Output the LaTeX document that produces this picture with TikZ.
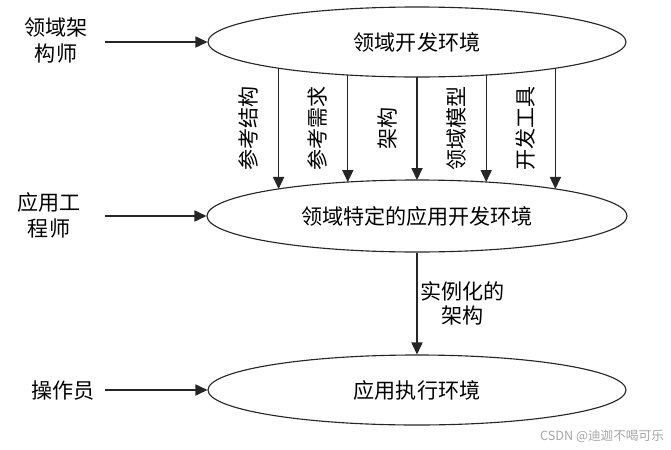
\documentclass[tikz,border=0pt]{standalone}
\usepackage{fontspec}
\setmainfont{Noto Sans CJK SC}
\usepackage{tikz}
\usetikzlibrary{shapes, arrows.meta, positioning, calc}

\begin{document}
\begin{tikzpicture}[
  envnode/.style={draw=black!85, ellipse, line width=0.8pt, minimum width=10.45cm, minimum height=1.75cm, inner sep=0pt, font=\fontsize{15}{18}\selectfont},
  rolenode/.style={align=center, inner sep=0pt, font=\fontsize{15}{18.5}\selectfont},
  flow/.style={draw=black!85, line width=0.8pt, -{Triangle[length=0.3cm, width=0.28cm]}},
  vlabel/.style={rotate=90, inner sep=0pt, font=\fontsize{15}{18}\selectfont}
]
  \useasboundingbox (0,0) rectangle (16.775,-11.225);

  \node[envnode] (devenv) at (10.425, -1.05) {领域开发环境};
  \node[envnode, minimum width=10.5cm, minimum height=1.8cm] (appdev) at (10.425, -5.4) {领域特定的应用开发环境};
  \node[envnode] (runenv) at (10.425, -9.75) {应用执行环境};

  \node[rolenode] (architect) at (1.4, -1.0) {领域架\\构师};
  \node[rolenode] (engineer) at (1.225, -5.39) {应用工\\程师};
  \node[rolenode] (operator) at (1.575, -9.775) {操作员};

  \coordinate (architectin) at (2.625, -1.05);
  \coordinate (engineerin) at (2.625, -5.4);
  \coordinate (operatorin) at (2.625, -9.75);
  \draw[flow] (architectin) -- (devenv.west);
  \draw[flow] (engineerin) -- (appdev.west);
  \draw[flow] (operatorin) -- (runenv.west);

  \foreach \k/\lbl in {-2/参考结构, -1/参考需求, 0/架构, 1/领域模型, 2/开发工具} {
    \pgfmathsetmacro\dx{1.73*\k}
    \pgfmathsetmacro\dtop{0.875*sqrt(1-(\dx/5.225)^2)}
    \pgfmathsetmacro\dbot{0.9*sqrt(1-(\dx/5.25)^2)}
    \draw[flow] ($(devenv.center)+(\dx,-\dtop)$) -- node[midway, xshift=-0.75cm, vlabel] {\lbl} ($(appdev.center)+(\dx,\dbot)$);
  }

  \draw[flow] (appdev.south) -- node[midway, right=2pt, rolenode, font=\fontsize{15}{17}\selectfont] {实例化的\\架构} (runenv.north);

  \node[text=gray!70, font=\fontsize{9}{11}\selectfont] (mark) at (15.05, -10.9) {CSDN @迪迦不喝可乐};
\end{tikzpicture}
\end{document}
